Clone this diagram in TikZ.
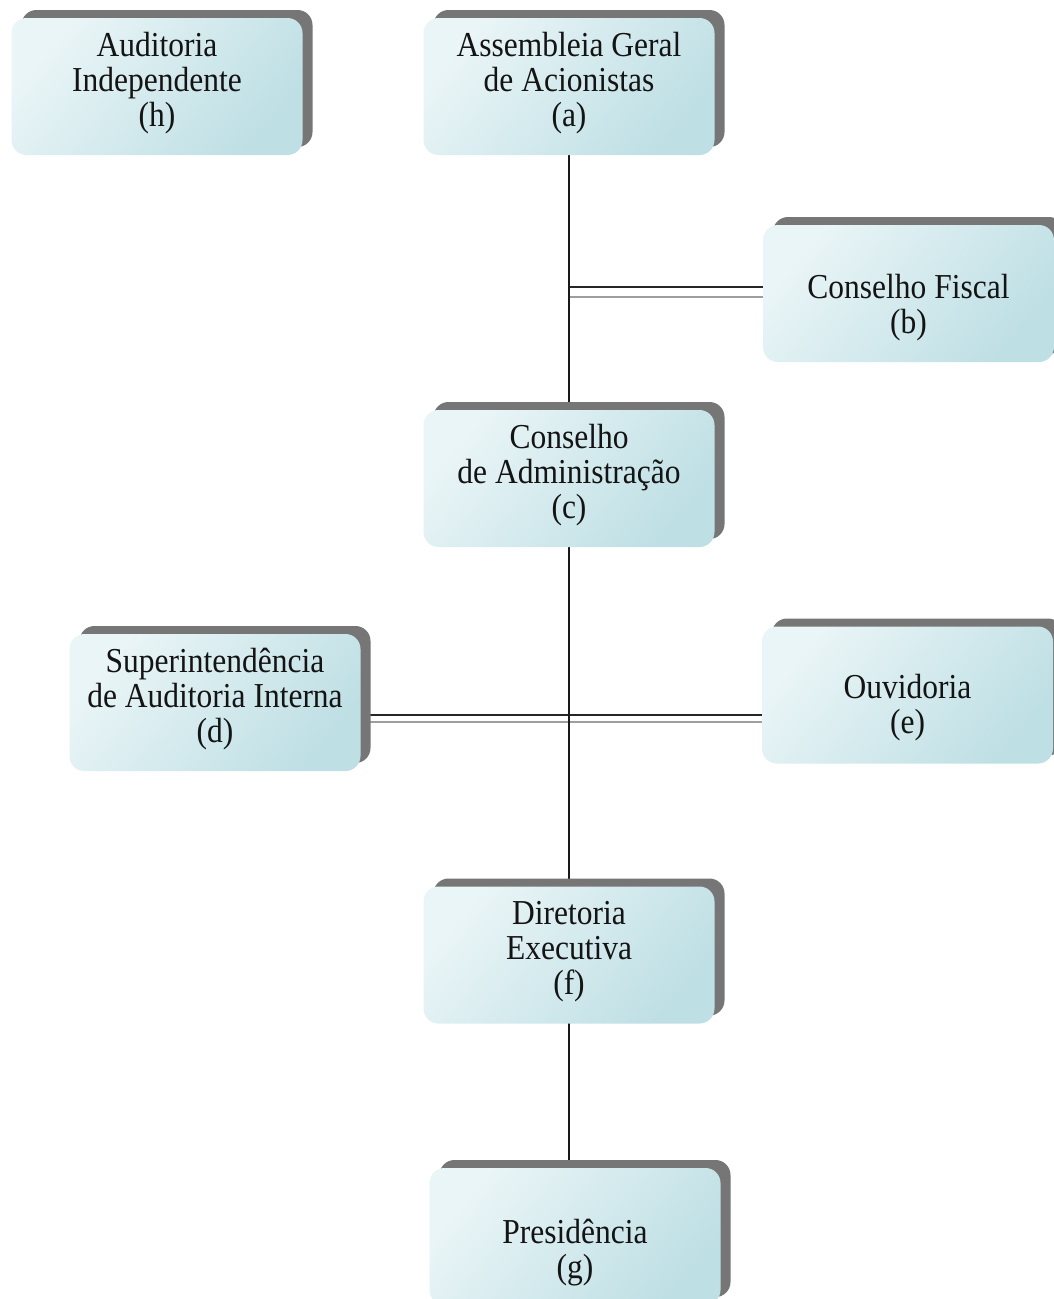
\documentclass[tikz,border=0pt]{standalone}
\usepackage{fontspec}
\setmainfont{Liberation Serif}[FakeStretch=0.9]
\usetikzlibrary{shadows,backgrounds,calc}
\definecolor{boxA}{HTML}{EAF5F7}
\definecolor{boxB}{HTML}{BEDFE4}
\definecolor{shad}{HTML}{767676}
\definecolor{txt}{HTML}{141414}
\begin{document}
\begin{tikzpicture}[x=1pt,y=-1pt,
  orgbox/.style={rectangle, rounded corners=15pt, minimum width=291pt,
    minimum height=137pt, inner sep=0pt, top color=boxA, bottom color=boxB,
    shading angle=50,
    drop shadow={shadow xshift=10pt, shadow yshift=8pt, fill=shad, opacity=1}},
  txtlab/.style={align=center, text=txt, font=\fontsize{35}{35}\selectfont, inner sep=0pt},
  trunk/.style={draw=black!90, line width=2.8pt},
  linkdark/.style={draw=black!85, line width=2pt},
  linklight/.style={draw=black!38, line width=2pt}]
\useasboundingbox (0,0) rectangle (1054,1299);

\node[orgbox, label={[txtlab, yshift=3pt]center:Auditoria\\Independente\\(h)}] (h) at (157,86.5) {};
\node[orgbox, label={[txtlab, yshift=3pt]center:Assembleia Geral\\de Acionistas\\(a)}] (a) at (569,86.5) {};
\node[orgbox, label={[txtlab, yshift=-14pt]center:Conselho Fiscal\\(b)}] (b) at (908.5,293.5) {};
\node[orgbox, label={[txtlab, yshift=3pt]center:Conselho\\de Administração\\(c)}] (c) at (569,478.5) {};
\node[orgbox, label={[txtlab, yshift=3pt]center:Superintendência\\de Auditoria Interna\\(d)}] (d) at (215,702.5) {};
\node[orgbox, label={[txtlab, yshift=-13pt]center:Ouvidoria\\(e)}] (e) at (907.5,695) {};
\node[orgbox, label={[txtlab, yshift=3pt]center:Diretoria\\Executiva\\(f)}] (f) at (569,955) {};
\node[orgbox, label={[txtlab, yshift=-16pt]center:Presidência\\(g)}] (g) at (575,1236.5) {};

\coordinate (bdk) at ($(b.west)+(0,-6.5)$);
\coordinate (blt) at ($(b.west)+(0,3.5)$);
\coordinate (dedk) at ($(d.east)+(0,12.5)$);
\coordinate (delt) at ($(d.east)+(0,19.5)$);

\begin{scope}[on background layer]
  \fill[white] (0,0) rectangle (1054,1299);
  \draw[linkdark] (bdk -| a.center) -- (bdk);
  \draw[linklight] (blt -| a.center) -- (blt);
  \draw[linkdark] (dedk) -- (dedk -| e.west);
  \draw[linklight] (delt) -- (delt -| e.west);
  \draw[trunk] (a.center) -- (c.center);
  \draw[trunk] (c.center) -- (f.center);
  \draw[trunk] (f.center) -- (f.center |- g.center);
\end{scope}
\end{tikzpicture}
\end{document}
